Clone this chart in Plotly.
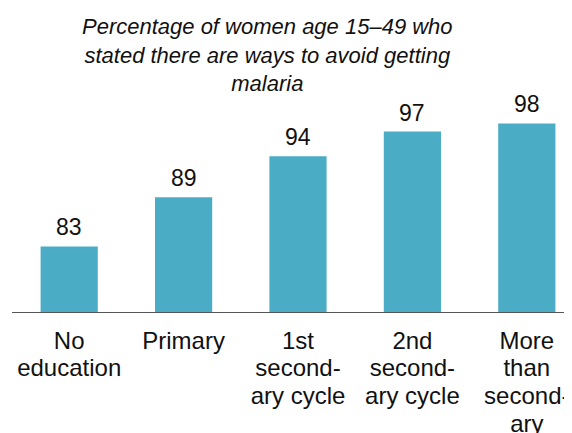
import plotly.graph_objects as go

categories = ["No<br>education", "Primary", "1st<br>second-<br>ary cycle",
              "2nd<br>second-<br>ary cycle", "More<br>than<br>second-<br>ary"]
values = [83, 89, 94, 97, 98]
title_text = ("<i>Percentage of women age 15\u201349 who<br>"
              "stated there are ways to avoid getting<br>malaria</i>")

FONT = "Liberation Sans, Arial, sans-serif"
xpos = list(range(len(categories)))


def big_lines(label, px=24):
    return "<br>".join(f"<span style='font-size:{px}px'>{ln}</span>"
                       for ln in label.split("<br>"))


tick_text = [big_lines(c) for c in categories]

fig = go.Figure(go.Bar(
    x=xpos,
    y=values,
    marker=dict(color="#4BACC6", line=dict(width=0)),
    width=0.5,
    cliponaxis=False,
))

for xi, v in zip(xpos, values):
    fig.add_annotation(x=xi, y=v, text=str(v), showarrow=False,
                       xanchor="center", yanchor="bottom", yshift=4,
                       font=dict(family=FONT, size=23, color="#111111"))

fig.add_annotation(text=title_text, xref="paper", yref="paper",
                   x=0.4507, y=1, xanchor="center", yanchor="top", yshift=-4,
                   showarrow=False, align="center",
                   font=dict(family=FONT, size=22, color="#111111"))

fig.update_layout(
    width=572, height=433,
    margin=dict(l=4, r=0, t=0, b=129, autoexpand=False),
    paper_bgcolor="white", plot_bgcolor="white",
    showlegend=False,
    font=dict(family=FONT, color="#111111"),
)
fig.update_xaxes(
    tickmode="array", tickvals=xpos, ticktext=tick_text,
    range=[-0.5, 4.465], showline=True, linecolor="#555555", linewidth=1,
    showgrid=False, zeroline=False, ticks="", ticklabelstandoff=10,
    automargin=False,
    tickfont=dict(family=FONT, size=21.3, color="#111111"),
)
fig.update_yaxes(range=[75, 112.07], visible=False, showgrid=False,
                 zeroline=False, automargin=False)

fig.write_html("out.html")
